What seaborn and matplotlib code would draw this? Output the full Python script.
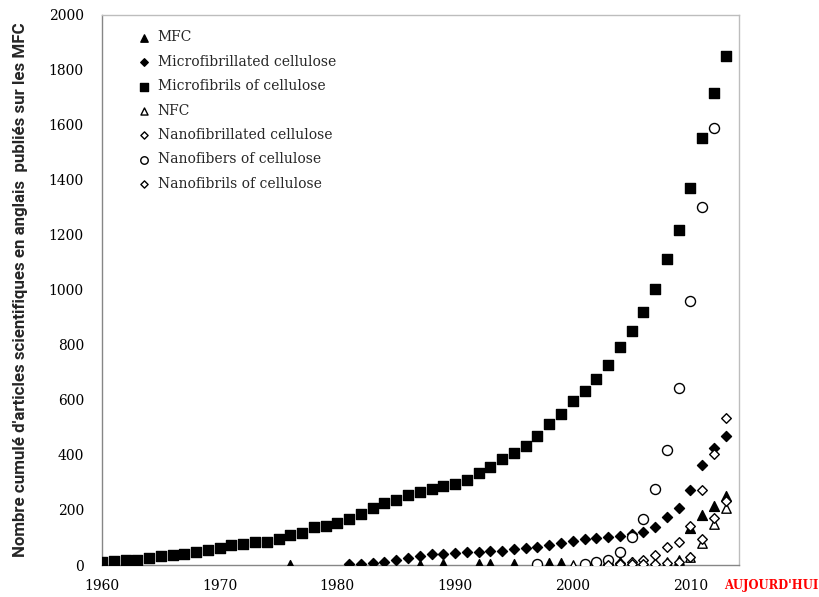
import matplotlib
matplotlib.use("Agg")
import matplotlib.pyplot as plt
import seaborn as sns

# Cumulative counts of English-language papers per naming variant
sq_years = list(range(1960, 2014))
microfibrils_of_cellulose = [12, 14, 18, 19, 24, 31, 36, 41, 46, 53,
                             63, 74, 78, 82, 85, 93, 108, 116, 138, 143,
                             153, 167, 184, 206, 227, 238, 253, 265, 278, 289,
                             296, 310, 333, 358, 387, 409, 434, 468, 513, 550,
                             596, 633, 678, 726, 794, 849, 919, 1004, 1114, 1218,
                             1372, 1554, 1716, 1851]

mfc_years = [1976, 1987, 1989, 1992, 1993, 1995, 1998, 1999, 2004, 2005, 2010, 2011, 2012, 2013]
mfc = [1, 1, 2, 3, 3, 3, 7, 8, 10, 12, 133, 182, 214, 250]

mfcell_years = list(range(1981, 2014))
microfibrillated_cellulose = [2, 3, 8, 12, 20, 27, 33, 39, 41, 43,
                              46, 48, 51, 52, 57, 61, 64, 74, 79, 87,
                              93, 99, 103, 106, 113, 121, 139, 173, 206, 273,
                              362, 425, 468]

nfc_years = [2000, 2003, 2004, 2005, 2006, 2007, 2008, 2009, 2010, 2011, 2012, 2013]
nfc = [0, 1, 2, 3, 5, 8, 12, 18, 28, 79, 149, 206]

nfcell_years = [2002, 2003, 2004, 2005, 2006, 2007, 2008, 2009, 2010, 2011, 2012, 2013]
nanofibrillated_cellulose = [2, 4, 6, 12, 18, 36, 64, 85, 143, 273, 404, 533]

nfib_years = [1997, 2001, 2002, 2003, 2004, 2005, 2006, 2007, 2008, 2009, 2010, 2011, 2012]
nanofibers_of_cellulose = [3, 5, 12, 18, 48, 101, 166, 275, 418, 642, 960, 1303, 1590]

nfibril_years = [2003, 2004, 2005, 2006, 2007, 2008, 2009, 2010, 2011, 2012, 2013]
nanofibrils_of_cellulose = [1, 2, 3, 4, 5, 8, 10, 30, 93, 170, 232]

x_ticks = [1960, 1970, 1980, 1990, 2000, 2010]
y_ticks = list(range(0, 2001, 200))

series = [
    ("MFC", mfc_years, mfc, "^", "black", 50),
    ("Microfibrillated cellulose", mfcell_years, microfibrillated_cellulose, "D", "black", 26),
    ("Microfibrils of cellulose", sq_years, microfibrils_of_cellulose, "s", "black", 54),
    ("NFC", nfc_years, nfc, "^", "white", 46),
    ("Nanofibrillated cellulose", nfcell_years, nanofibrillated_cellulose, "D", "white", 24),
    ("Nanofibers of cellulose", nfib_years, nanofibers_of_cellulose, "o", "white", 52),
    ("Nanofibrils of cellulose", nfibril_years, nanofibrils_of_cellulose, "D", "white", 24),
]

sns.set_theme(style="white")
plt.rcParams["font.family"] = ["DejaVu Serif"]

fig = plt.figure(figsize=(8.19, 5.97), dpi=100)
ax = fig.add_axes([0.1245, 0.0536, 0.7775, 0.9214])

for name, xs, ys, mk, fc, size in series:
    sns.scatterplot(x=xs, y=ys, marker=mk, s=size, color=fc,
                    edgecolor="black", linewidth=1.0, label=name, ax=ax,
                    zorder=3)

ax.set_xlim(1960, 2014.1)
ax.set_ylim(0, 2000)
ax.set_xticks(x_ticks)
ax.set_yticks(y_ticks)
ax.tick_params(axis="both", which="major", direction="out", length=5,
               width=1, color="#868686", labelsize=10, labelcolor="black")
ax.tick_params(axis="y", pad=8)
ax.tick_params(axis="x", pad=5)
ax.set_xlabel("")
ax.set_ylabel("Nombre cumulé d'articles scientifiques en anglais  publiés sur les MFC",
              family=["Roboto", "DejaVu Sans"], fontweight="bold", fontsize=12.2,
              labelpad=15)

for side in ["left", "bottom"]:
    ax.spines[side].set_color("#868686")
    ax.spines[side].set_linewidth(1.0)
for side in ["top", "right"]:
    ax.spines[side].set_visible(True)
    ax.spines[side].set_color("#bdbdbd")
    ax.spines[side].set_linewidth(1.0)

leg = ax.legend(loc="upper left", bbox_to_anchor=(0.046, 0.982), frameon=False,
                fontsize=10, markerscale=0.75, handletextpad=0.5,
                labelspacing=0.75, borderaxespad=0.0, handlelength=1.0)

fig.text(724 / 819, 0.02, "AUJOURD'HUI", color="#ff0000", fontweight="bold",
         fontsize=8.3, ha="left", va="center")

fig.savefig("out.png", dpi=100)
